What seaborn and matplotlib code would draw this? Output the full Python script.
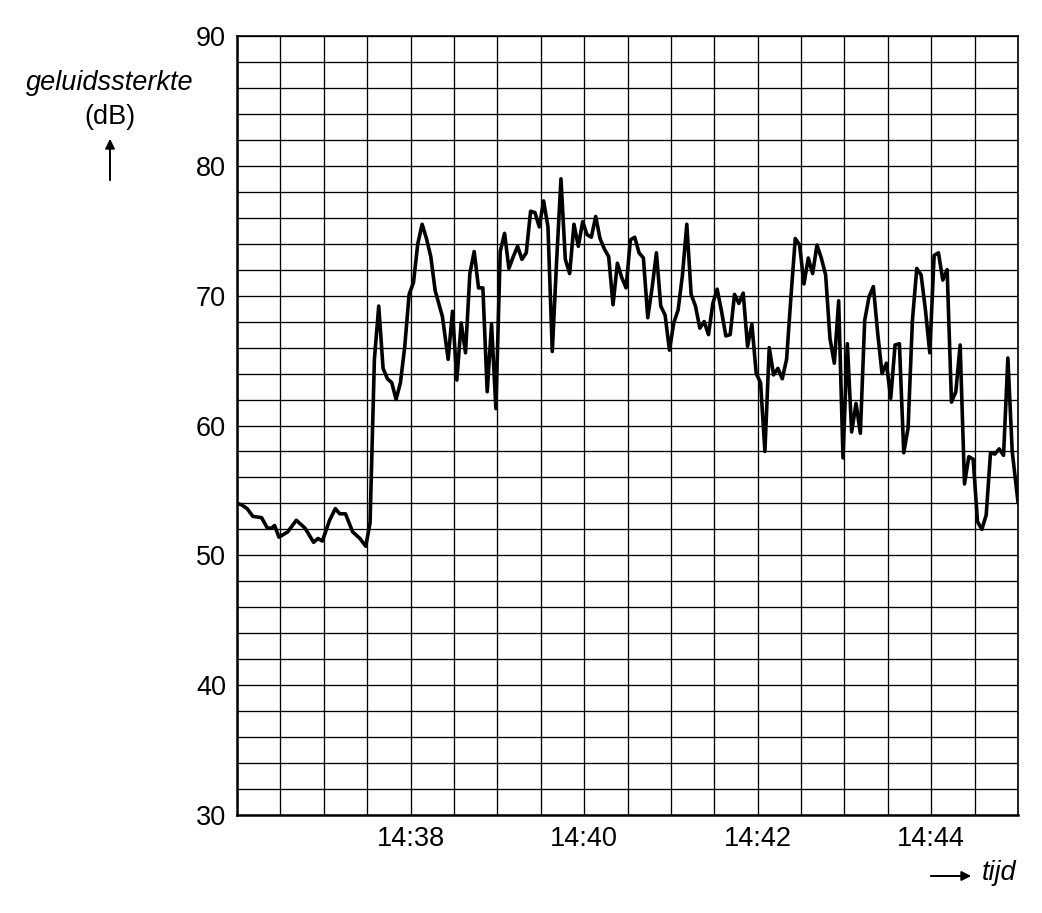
import pandas as pd
import numpy as np
import seaborn as sns
import matplotlib.pyplot as plt
from matplotlib.ticker import MultipleLocator

# seconds after 14:36:00 and sound level in dB
seconds = [
    0, 3, 7, 11, 17, 21, 24, 26, 29, 35,
    41, 47, 53, 56, 59, 64, 68, 71, 75, 80,
    85, 89, 92, 95, 98, 101, 104, 107, 110, 113,
    116, 119, 122, 125, 128, 131, 134, 137, 142, 146,
    149, 152, 155, 158, 161, 164, 167, 170, 173, 176,
    179, 182, 185, 188, 191, 194, 197, 200, 203, 206,
    209, 212, 215, 218, 221, 224, 227, 230, 233, 236,
    239, 242, 245, 248, 251, 254, 257, 260, 263, 266,
    269, 272, 275, 278, 281, 284, 287, 290, 293, 296,
    299, 302, 305, 308, 311, 314, 317, 320, 323, 326,
    329, 332, 335, 338, 341, 344, 347, 350, 353, 356,
    359, 362, 365, 368, 371, 374, 377, 380, 383, 386,
    389, 392, 395, 398, 401, 404, 407, 410, 413, 416,
    419, 422, 425, 428, 431, 434, 437, 440, 443, 446,
    449, 452, 455, 458, 461, 464, 467, 470, 473, 476,
    479, 482, 485, 488, 491, 494, 497, 500, 503, 506,
    509, 512, 515, 518, 521, 524, 527, 530, 533, 536,
    540]

geluid = [
    54.0, 53.9, 53.6, 53.0, 52.9, 52.1, 52.1, 52.3, 51.4, 51.8,
    52.7, 52.1, 51.0, 51.3, 51.1, 52.7, 53.6, 53.2, 53.2, 51.8,
    51.3, 50.7, 52.5, 65.1, 69.2, 64.4, 63.6, 63.3, 62.0, 63.3,
    66.1, 70.1, 71.0, 74.0, 75.5, 74.4, 73.0, 70.4, 68.4, 65.1,
    68.8, 63.5, 67.9, 65.6, 71.7, 73.4, 70.6, 70.6, 62.6, 67.8,
    61.3, 73.4, 74.8, 72.1, 73.0, 73.8, 72.8, 73.3, 76.5, 76.4,
    75.3, 77.3, 75.3, 65.7, 72.7, 79.0, 72.8, 71.7, 75.5, 73.8,
    75.7, 74.7, 74.5, 76.1, 74.4, 73.6, 73.0, 69.3, 72.5, 71.4,
    70.6, 74.3, 74.5, 73.3, 72.9, 68.3, 70.6, 73.3, 69.2, 68.5,
    65.8, 67.9, 68.9, 71.6, 75.5, 70.1, 69.2, 67.5, 68.0, 67.0,
    69.4, 70.5, 68.8, 66.9, 67.0, 70.1, 69.4, 70.2, 66.1, 67.8,
    64.0, 63.3, 58.0, 66.0, 63.9, 64.4, 63.6, 65.1, 69.9, 74.4,
    73.9, 70.9, 72.9, 71.7, 73.9, 72.9, 71.6, 66.7, 64.8, 69.6,
    57.5, 66.3, 59.5, 61.7, 59.4, 68.1, 69.9, 70.7, 67.1, 64.0,
    64.8, 62.1, 66.2, 66.3, 57.9, 59.8, 68.1, 72.1, 71.6, 68.9,
    65.6, 73.1, 73.3, 71.2, 72.0, 61.8, 62.6, 66.2, 55.5, 57.6,
    57.4, 52.6, 52.0, 53.1, 57.9, 57.8, 58.2, 57.7, 65.2, 58.0,
    54.1]

tick_pos = [120, 240, 360, 480]
tick_labels = ["14:38", "14:40", "14:42", "14:44"]

df = pd.DataFrame({"t": seconds, "db": geluid})

sns.set_style("white")
plt.rcParams['font.family'] = ['Liberation Sans', 'DejaVu Sans']
plt.rcParams['text.color'] = 'black'

W, H = 1042, 913
fs = 19.5
fig = plt.figure(figsize=(W / 100, H / 100), dpi=100)
ax = fig.add_axes([237 / W, (H - 815) / H, (1018 - 237) / W, (815 - 36) / H])

sns.lineplot(data=df, x="t", y="db", ax=ax, color="black", lw=2.6, zorder=3)

ax.set_xlim(0, 540)
ax.set_ylim(30, 90)
ax.set_xticks(tick_pos)
ax.set_xticklabels(tick_labels)
ax.xaxis.set_minor_locator(MultipleLocator(30))
ax.set_yticks(range(30, 91, 10))
ax.yaxis.set_minor_locator(MultipleLocator(2))
ax.grid(which="both", color="black", lw=0.95, zorder=1)
ax.set_axisbelow(True)

ax.tick_params(axis="both", which="major", direction="out", length=6,
               width=1.3, labelsize=fs, color="black", labelcolor="black", pad=2)
ax.tick_params(axis="y", which="minor", direction="out", length=2.5, width=1.0)
ax.tick_params(axis="x", which="minor", length=0)
ax.set_xlabel("")
ax.set_ylabel("")
for s in ax.spines.values():
    s.set_color("black")
    s.set_linewidth(1.2)
ax.spines["left"].set_linewidth(1.8)
ax.spines["bottom"].set_linewidth(1.8)

# axis captions with arrows
fig.text(110 / W, (H - 83) / H, "geluidssterkte", ha="center", va="center",
         fontsize=fs, style="italic", color="black")
fig.text(110 / W, (H - 117) / H, "(dB)", ha="center", va="center",
         fontsize=fs, color="black")
fig.text(982 / W, (H - 873) / H, "tijd", ha="left", va="center",
         fontsize=fs, style="italic", color="black")
ax.annotate("", xy=(110, H - 136), xytext=(110, H - 183), xycoords="figure pixels",
            arrowprops=dict(arrowstyle="-|>", color="black", lw=1.4,
                            mutation_scale=14))
ax.annotate("", xy=(974, H - 876), xytext=(928, H - 876), xycoords="figure pixels",
            arrowprops=dict(arrowstyle="-|>", color="black", lw=1.4,
                            mutation_scale=14))

plt.savefig("out.png", dpi=100)
